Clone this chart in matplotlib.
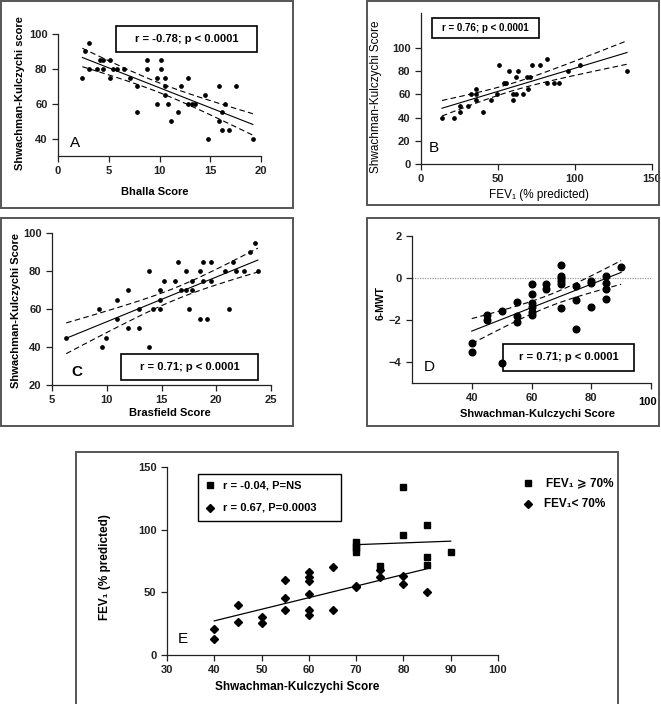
import matplotlib
matplotlib.use('Agg')
import matplotlib.pyplot as plt
from matplotlib.patches import Rectangle
import numpy as np

plt.rcParams['font.family'] = ['Liberation Sans', 'DejaVu Sans']

# panel A: Bhalla score vs Shwachman-Kulczychi score
bhalla = [2.4, 2.7, 3.1, 3.1, 3.8, 4.1, 4.4, 4.4, 5.1, 5.1, 5.4, 5.8, 6.5, 7.1, 7.8, 7.8,
          8.8, 8.8, 9.8, 9.8, 10.1, 10.1, 10.5, 10.5, 10.5, 10.8, 11.1, 11.8, 12.1, 12.8,
          12.8, 13.2, 13.5, 14.5, 14.8, 15.9, 15.9, 16.2, 16.2, 16.5, 16.8, 17.5, 19.2]
sk_a = [75, 90, 95, 80, 80, 85, 85, 80, 85, 75, 80, 80, 80, 75, 70, 55,
        85, 80, 75, 60, 85, 80, 75, 70, 65, 60, 50, 55, 70, 75,
        60, 60, 60, 65, 40, 70, 50, 55, 45, 60, 45, 70, 40]

# panel B: FEV1 vs Shwachman-Kulczychi score
fev_b = [13.6, 21.6, 25.5, 25.5, 30.3, 32.3, 35.5, 35.5, 35.9, 40, 45.5, 49.4, 50.4, 54,
         55.4, 57, 59.7, 59.7, 61.7, 61.9, 62.8, 66.2, 68.8, 69.5, 70.6, 71.9, 77.5, 81.8,
         81.8, 86.1, 89.8, 95.7, 103.5, 133.8]
sk_b = [40, 40, 45, 50, 50, 60, 65, 60, 55, 45, 55, 60, 85, 70,
        70, 80, 60, 55, 75, 60, 80, 60, 75, 65, 75, 85, 85, 90,
        70, 70, 70, 80, 85, 80]

# panel C: Brasfield score vs Shwachman-Kulczychi score
brasfield = [6.3, 9.3, 9.6, 9.9, 10.9, 10.9, 11.9, 11.9, 12.9, 12.9, 13.9, 13.9, 14.2, 14.9,
             14.9, 14.9, 15.2, 16.2, 16.5, 16.8, 17.2, 17.2, 17.5, 17.8, 17.8, 18.5, 18.5,
             18.8, 18.8, 19.2, 19.5, 19.5, 20.8, 21.2, 21.5, 21.8, 22.5, 23.1, 23.5, 23.8]
sk_c = [45, 60, 40, 45, 65, 55, 70, 50, 60, 50, 80, 40, 60, 70,
        65, 60, 75, 75, 85, 70, 80, 70, 60, 75, 70, 80, 55,
        75, 85, 55, 75, 85, 80, 60, 85, 80, 80, 90, 95, 80]

# panel D: Shwachman-Kulczychi score vs 6-MWT
sk_d = [40, 40, 45, 45, 50, 50, 55, 55, 55, 60, 60, 60, 60, 60, 60, 65, 65,
        70, 70, 70, 70, 70, 70, 75, 75, 75, 80, 80, 80, 85, 85, 85, 85, 90]
mwt = [-3.1, -3.5, -1.75, -2.0, -1.56, -4.05, -1.13, -1.81, -2.11, -0.3, -0.75, -1.2,
       -1.4, -1.6, -1.75, -0.3, -0.5, 0.6, 0.1, 0.0, -0.15, -0.3, -1.45, -0.4, -1.07,
       -2.45, -0.12, -0.22, -1.37, 0.1, -0.25, -0.52, -1.02, 0.52]

# panel E: Shwachman-Kulczychi score vs FEV1, split by FEV1 >= 70%
sk_hi = [70, 70, 70, 70, 75, 80, 80, 85, 85, 85, 90]
fev_hi = [90, 87, 85, 82, 71, 134, 96, 104, 78, 72, 82]
sk_lo = [40, 40, 45, 45, 50, 50, 55, 55, 55, 60, 60, 60, 60, 60, 60, 65, 65,
         70, 70, 75, 75, 80, 80, 85]
fev_lo = [21, 13, 40, 26, 30, 25.5, 60, 45.5, 36, 66, 62, 59, 49, 36, 32, 70, 36,
          55, 54, 62, 68, 63, 57, 50]

W, H = 661, 704
fig = plt.figure(figsize=(W / 100, H / 100), dpi=100)


def ax_px(l, r, t, b):
    ax = fig.add_axes([l / W, 1 - b / H, (r - l) / W, (b - t) / H])
    ax.spines['top'].set_visible(False)
    ax.spines['right'].set_visible(False)
    for s in ('left', 'bottom'):
        ax.spines[s].set_linewidth(0.9)
        ax.spines[s].set_color('#222222')
    ax.tick_params(direction='out', length=4, width=0.9, labelsize=8, colors='#222222')
    ax.patch.set_visible(False)
    return ax


def bold_ticks(ax):
    for lab in ax.get_xticklabels() + ax.get_yticklabels():
        lab.set_fontweight('bold')


def frame(l, t, r, b):
    fig.patches.append(Rectangle((l / W, 1 - b / H), (r - l) / W, (b - t) / H,
                                 transform=fig.transFigure, fill=False,
                                 edgecolor='#555555', lw=1.4))


def tbox(l, t, r, b, s, size=8):
    fig.patches.append(Rectangle((l / W, 1 - b / H), (r - l) / W, (b - t) / H,
                                 transform=fig.transFigure, fill=False,
                                 edgecolor='black', lw=1.2))
    fig.text((l + r) / 2 / W, 1 - (t + b) / 2 / H, s, ha='center', va='center',
             fontsize=size, fontweight='bold')


def ftext(x, y, s, **kw):
    fig.text(x / W, 1 - y / H, s, **kw)


def fit_bands(ax, x, y, t=2.0, band=True, lw=0.8):
    x = np.asarray(x, float)
    y = np.asarray(y, float)
    b, a = np.polyfit(x, y, 1)
    xs = np.linspace(x.min(), x.max(), 100)
    ys = a + b * xs
    ax.plot(xs, ys, color='black', lw=lw)
    if band:
        n = len(x)
        s = np.sqrt(np.sum((y - (a + b * x)) ** 2) / (n - 2))
        se = s * np.sqrt(1 / n + (xs - x.mean()) ** 2 / np.sum((x - x.mean()) ** 2))
        ax.plot(xs, ys + t * se, color='black', lw=0.8, dashes=(5, 3))
        ax.plot(xs, ys - t * se, color='black', lw=0.8, dashes=(5, 3))


# panel frames
frame(1, 1, 293, 208)
frame(367, 1, 659, 205)
frame(1, 218, 293, 426)
frame(367, 218, 659, 426)
frame(76, 452, 618, 710)

# A
ax = ax_px(58, 261, 34, 156)
ax.plot(bhalla, sk_a, 'o', color='black', ms=2.4)
fit_bands(ax, bhalla, sk_a)
ax.set_xlim(0, 20)
ax.set_ylim(30, 100)
ax.set_xticks([0, 5, 10, 15, 20])
ax.set_yticks([40, 60, 80, 100])
bold_ticks(ax)
ftext(155, 192, 'Bhalla Score', ha='center', va='center', fontsize=8, fontweight='bold')
ftext(20, 93, 'Shwachman-Kulczychi score', ha='center', va='center', rotation=90,
      fontsize=8, fontweight='bold')
ftext(75, 143, 'A', ha='center', va='center', fontsize=11)
tbox(116, 26, 257, 52, 'r = -0.78; p < 0.0001')

# B
ax = ax_px(421, 652, 13, 164)
ax.plot(fev_b, sk_b, 'o', color='black', ms=2.4)
fit_bands(ax, fev_b, sk_b)
ax.set_xlim(0, 150)
ax.set_ylim(0, 130)
ax.set_xticks([0, 50, 100, 150])
ax.set_yticks([0, 20, 40, 60, 80, 100])
bold_ticks(ax)
ftext(539, 195, 'FEV\u2081 (% predicted)', ha='center', va='center', fontsize=8.5)
ftext(376, 97, 'Shwachman-Kulczychi Score', ha='center', va='center', rotation=90,
      fontsize=8.5)
ftext(434, 148, 'B', ha='center', va='center', fontsize=11)
tbox(432, 18, 539, 38, 'r = 0.76; p < 0.0001', size=7)

# C
ax = ax_px(52, 271, 233, 385)
ax.plot(brasfield, sk_c, 'o', color='black', ms=2.4)
fit_bands(ax, brasfield, sk_c)
ax.set_xlim(5, 25)
ax.set_ylim(20, 100)
ax.set_xticks([5, 10, 15, 20, 25])
ax.set_yticks([20, 40, 60, 80, 100])
bold_ticks(ax)
ftext(170, 413, 'Brasfield Score', ha='center', va='center', fontsize=8, fontweight='bold')
ftext(16, 310, 'Shwachman-Kulczychi Score', ha='center', va='center', rotation=90,
      fontsize=8, fontweight='bold')
ftext(77, 372, 'C', ha='center', va='center', fontsize=11, fontweight='bold')
tbox(121, 354, 258, 380, 'r = 0.71; p < 0.0001')

# D
ax = ax_px(412, 651, 236, 383)
ax.axhline(0, color='#999999', lw=0.9, ls=(0, (1, 1)))
ax.plot(sk_d, mwt, 'o', color='black', ms=4.8)
fit_bands(ax, sk_d, mwt)
ax.set_xlim(20, 100)
ax.set_ylim(-5, 2)
ax.set_xticks([40, 60, 80, 100])
ax.set_xticklabels(['40', '60', '80', ''])
ax.set_yticks([-4, -2, 0, 2])
bold_ticks(ax)
ftext(648, 402, '100', ha='center', va='center', fontsize=8, fontweight='bold')
ftext(537, 414, 'Shwachman-Kulczychi Score', ha='center', va='center', fontsize=8,
      fontweight='bold')
ftext(381, 303, '6-MWT', ha='center', va='center', rotation=90, fontsize=7.5,
      fontweight='bold')
ftext(429, 367, 'D', ha='center', va='center', fontsize=11)
tbox(503, 344, 634, 371, 'r = 0.71; p < 0.0001')

# E
ax = ax_px(167, 498, 467, 655)
ax.plot(sk_hi, fev_hi, 's', color='black', ms=4.5)
ax.plot(sk_lo, fev_lo, 'D', color='black', ms=3.6)
fit_bands(ax, sk_hi, fev_hi, band=False, lw=0.9)
fit_bands(ax, sk_lo, fev_lo, band=False, lw=0.9)
ax.set_xlim(30, 100)
ax.set_ylim(0, 150)
ax.set_xticks([30, 40, 50, 60, 70, 80, 90, 100])
ax.set_yticks([0, 50, 100, 150])
bold_ticks(ax)
ftext(297, 687, 'Shwachman-Kulczychi Score', ha='center', va='center', fontsize=8.5,
      fontweight='bold')
ftext(105, 567, 'FEV\u2081 (% predicted)', ha='center', va='center', rotation=90,
      fontsize=8.5, fontweight='bold')
ftext(183, 639, 'E', ha='center', va='center', fontsize=11)

# legend box inside E
fig.patches.append(Rectangle((198 / W, 1 - 521 / H), 143 / W, 47 / H,
                             transform=fig.transFigure, fill=False,
                             edgecolor='black', lw=1.0))
fig.lines.append(plt.Line2D([210 / W], [1 - 485 / H], marker='s', color='black', ms=4.5,
                            transform=fig.transFigure))
fig.lines.append(plt.Line2D([210 / W], [1 - 508 / H], marker='D', color='black', ms=3.6,
                            transform=fig.transFigure))
ftext(223, 485, 'r = -0.04, P=NS', ha='left', va='center', fontsize=8, fontweight='bold')
ftext(223, 508, 'r = 0.67, P=0.0003', ha='left', va='center', fontsize=8, fontweight='bold')

# legend outside
fig.lines.append(plt.Line2D([528 / W], [1 - 483 / H], marker='s', color='black', ms=4.5,
                            transform=fig.transFigure))
fig.lines.append(plt.Line2D([528 / W], [1 - 504 / H], marker='D', color='black', ms=3.6,
                            transform=fig.transFigure))
ftext(546, 483, 'FEV\u2081 \u2a7e 70%', ha='left', va='center', fontsize=8.5,
      fontweight='bold')
ftext(544, 504, 'FEV\u2081< 70%', ha='left', va='center', fontsize=8.5, fontweight='bold')

fig.savefig('out.png', dpi=100, facecolor='white')
